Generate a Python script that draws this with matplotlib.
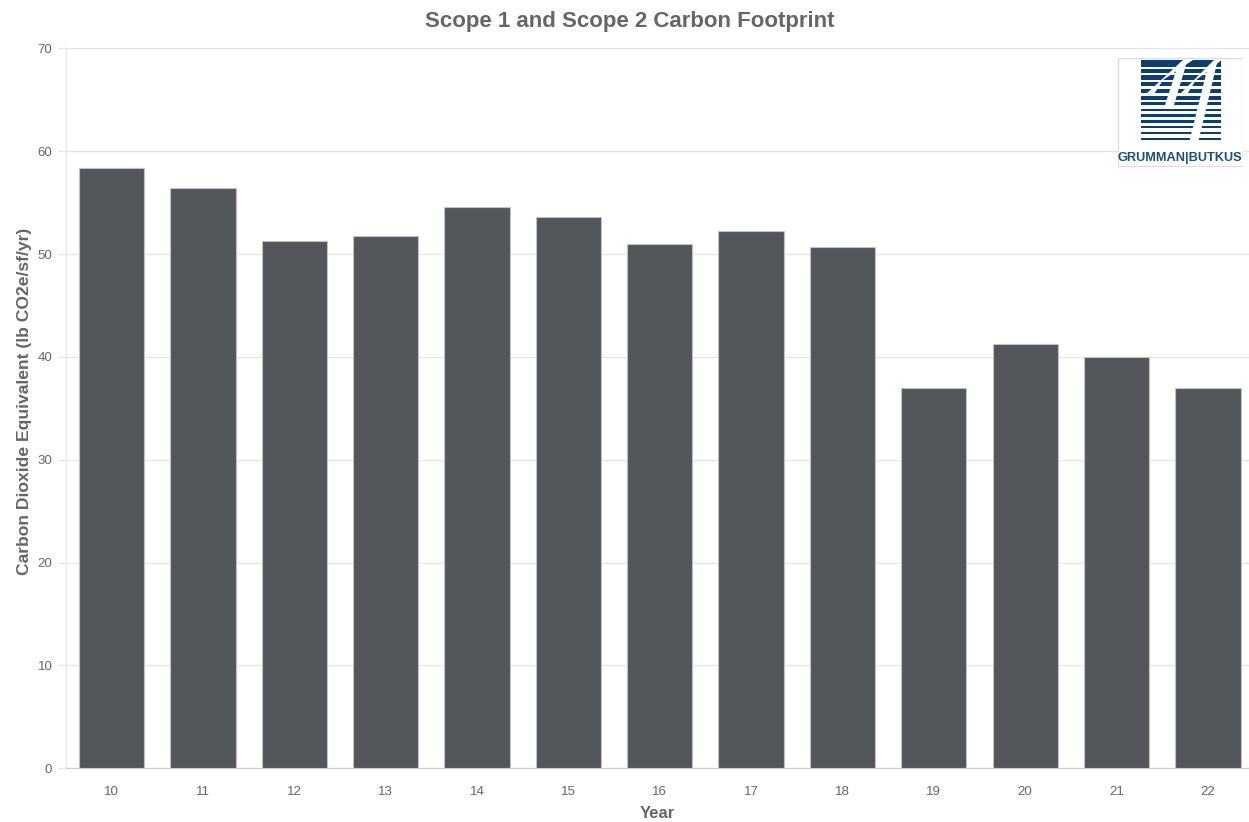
import matplotlib
matplotlib.use("Agg")
import matplotlib.pyplot as plt
from matplotlib.patches import Rectangle, Polygon

plt.rcParams['font.family'] = ['Liberation Sans', 'DejaVu Sans']

# footprint per year
years = ['10', '11', '12', '13', '14', '15', '16', '17', '18', '19', '20', '21', '22']
co2e = [58.4, 56.4, 51.3, 51.8, 54.6, 53.6, 51.0, 52.2, 50.7, 37.0, 41.3, 40.0, 37.0]
y_ticks = [0, 10, 20, 30, 40, 50, 60, 70]

text_grey = '#666666'
bar_color = '#53565a'

fig = plt.figure(figsize=(12.49, 8.22), dpi=100)
ax = fig.add_axes([0.0528, 0.0653, 0.9472, 0.8759])

x = range(len(years))
ax.bar(x, co2e, width=0.715, color=bar_color, edgecolor='#bfc1c4', linewidth=0.8, zorder=3)

ax.set_xlim(-0.5, 12.45)
ax.set_ylim(0, 70)
ax.set_xticks(list(x))
ax.set_xticklabels(years)
ax.set_yticks(y_ticks)

ax.grid(axis='y', color='#e6e6e6', linewidth=1, zorder=0)
for s in ['top', 'right']:
    ax.spines[s].set_visible(False)
ax.spines['left'].set_color('#e6e6e6')
ax.spines['bottom'].set_color('#cccccc')

ax.tick_params(axis='x', length=0, pad=13, labelsize=9.5, labelcolor=text_grey)
ax.tick_params(axis='y', length=5.8, width=1, color='#e6e6e6', pad=4, labelsize=9.5, labelcolor=text_grey)

ax.set_xlabel('Year', fontsize=12, fontweight='bold', color=text_grey)
ax.xaxis.set_label_coords(0.5, -0.052)
ax.set_ylabel('Carbon Dioxide Equivalent (lb CO2e/sf/yr)', fontsize=12.6, fontweight='bold',
              color=text_grey)
ax.yaxis.set_label_coords(-0.029, 0.509)
fig.text(0.504, 0.974, 'Scope 1 and Scope 2 Carbon Footprint', ha='center', va='center',
         fontsize=16, fontweight='bold', color=text_grey)

# company logo in the upper right corner
W, H = 1249, 822
lg = fig.add_axes([1117 / W, 1 - 167 / H, 126 / W, 109 / H])
lg.set_xlim(0, 126)
lg.set_ylim(109, 0)
lg.axis('off')
lg.add_patch(Rectangle((0.5, 0.5), 125, 108, facecolor='white', edgecolor='#dddddd', linewidth=1))
navy = '#0f3d6e'
x0, x1 = 24, 104
stripes = [(2.5, 7), (10.7, 4.6), (17.3, 4.6), (24, 4.5), (30.7, 4.3), (38.3, 3.5), (44, 3.4),
           (50.7, 2.8), (56.3, 2.7), (62.3, 2.4), (68, 2.1), (74, 1.8), (80, 1.8)]
for top, h in stripes:
    lg.add_patch(Rectangle((x0, top), x1 - x0, h, facecolor=navy, edgecolor='none'))
# white italic strokes cut through the stripes
strokes = [
    [(66, 2), (76, 2), (46, 22), (37, 36), (29, 36)],
    [(60, 10), (69, 7), (57, 47), (48, 47)],
    [(97, 2), (106, 1), (79, 22), (69, 38), (61, 38)],
    [(91, 8), (100, 5), (81, 85), (72, 85)],
]
for pts in strokes:
    lg.add_patch(Polygon(pts, closed=True, facecolor='white', edgecolor='none'))
lg.text(63, 100, 'GRUMMAN|BUTKUS', ha='center', va='center', fontsize=9.2, fontweight='bold',
        color='#1f4e79')

fig.savefig('out.png', dpi=100)
